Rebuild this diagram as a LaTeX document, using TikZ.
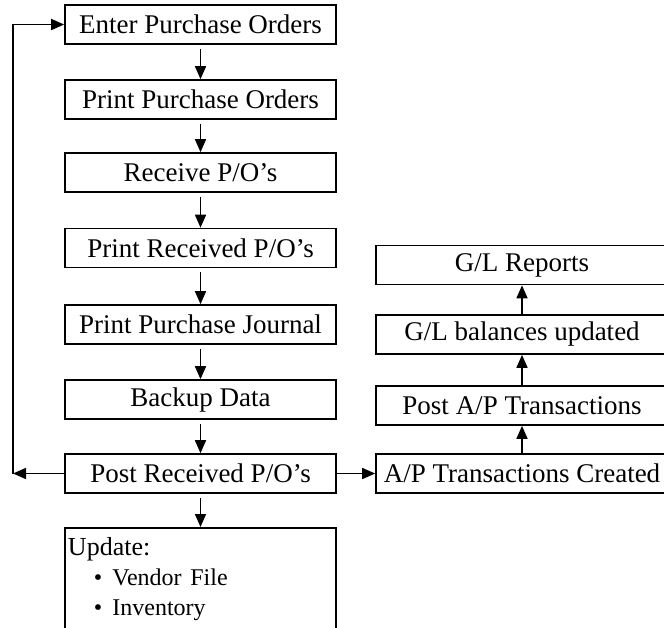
\documentclass[tikz,border=0pt]{standalone}
\usepackage{fontspec}
\setmainfont{Liberation Serif}
\usetikzlibrary{arrows.meta, positioning}

\tikzset{
  stepbox/.style={draw, line width=0.85pt, minimum width=135.5pt, minimum height=19.5pt, inner sep=0pt, font=\fontsize{13.5}{16}\selectfont},
  glbox/.style={stepbox, minimum width=146pt},
  flow/.style={line width=0.85pt, -{Triangle[length=6.5pt, width=5.5pt]}}
}

\begin{document}
\begin{tikzpicture}[x=0.5pt, y=-0.5pt]
  \clip (0,0) rectangle (664,627);
  \node[stepbox] (enter) at (200.5, 24.5) {Enter Purchase Orders};
  \node[stepbox] (printpo) at (200.5, 99.5) {Print Purchase Orders};
  \node[stepbox] (receive) at (200.5, 172.5) {Receive P/O’s};
  \node[stepbox] (printrec) at (200.5, 248) {Print Received P/O’s};
  \node[stepbox] (journal) at (200.5, 324.5) {Print Purchase Journal};
  \node[stepbox] (backup) at (200.5, 399.5) {Backup Data};
  \node[stepbox] (post) at (200.5, 473.5) {Post Received P/O’s};
  \node[stepbox, anchor=north, text width=132.5pt, align=left, inner xsep=1.5pt, inner ysep=5pt, text depth=50pt, font=\fontsize{13}{15}\selectfont] (update) at (200.5, 527) {Update:\\
    \hspace*{13pt}{\fontsize{12}{15}\selectfont\textbullet\hspace{5pt}Vendor File}\\
    \hspace*{13pt}{\fontsize{12}{15}\selectfont\textbullet\hspace{5pt}Inventory}};

  \node[glbox] (glreports) at (522, 265) {G/L Reports};
  \node[glbox] (glupdated) at (522, 334.5) {G/L balances updated};
  \node[glbox] (postap) at (522, 405.5) {Post A/P Transactions};
  \node[glbox] (apcreated) at (522, 473.5) {A/P Transactions Created};

  \draw[flow, shorten <=2pt] (enter) -- (printpo);
  \draw[flow, shorten <=2pt] (printpo) -- (receive);
  \draw[flow, shorten <=2pt] (receive) -- (printrec);
  \draw[flow, shorten <=2pt] (printrec) -- (journal);
  \draw[flow, shorten <=2pt] (journal) -- (backup);
  \draw[flow, shorten <=2pt] (backup) -- (post);
  \draw[flow, shorten <=2pt] (post) -- (update);

  \coordinate (loop) at (13, 473.5);
  \draw[flow] (post) -- (loop);
  \draw[flow] (loop) |- (enter);

  \draw[flow] (post) -- (apcreated);
  \draw[flow] (apcreated) -- (postap);
  \draw[flow] (postap) -- (glupdated);
  \draw[flow] (glupdated) -- (glreports);
\end{tikzpicture}
\end{document}
